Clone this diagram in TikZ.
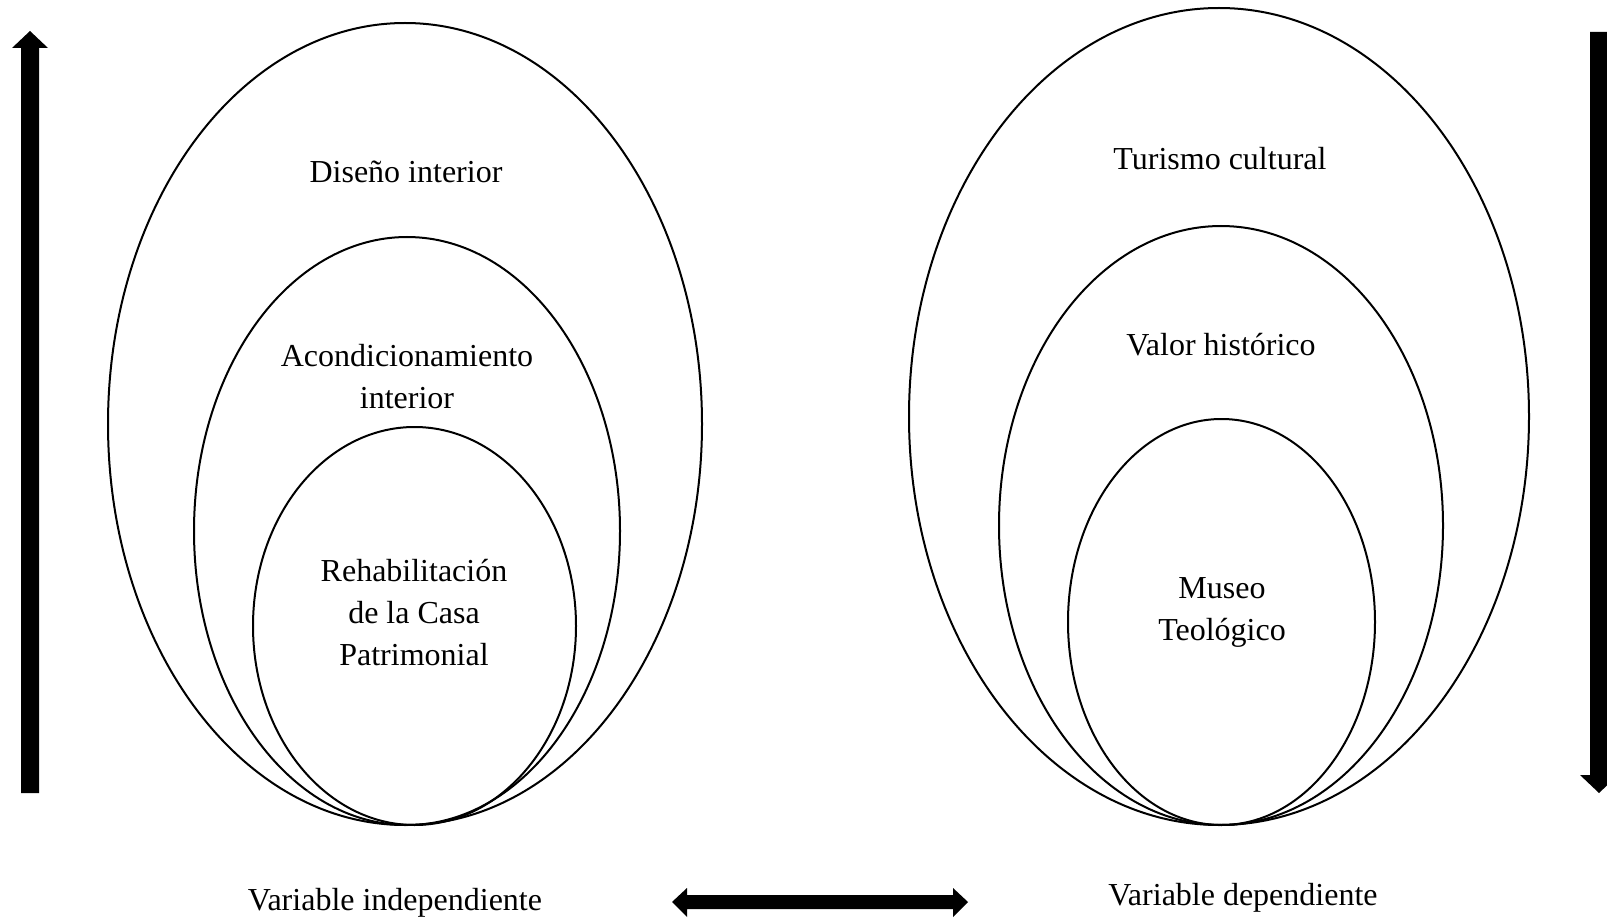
\documentclass[tikz,border=0pt]{standalone}
\usepackage{fontspec}
\setmainfont{Liberation Serif}
\begin{document}
\begin{tikzpicture}[x=1pt,y=-1pt,
  oval/.style={draw=black,line width=2pt},
  lbl/.style={align=center,font=\fontsize{32}{42}\selectfont,inner sep=0pt},
  blk/.style={fill=black,draw=none}]
\useasboundingbox (0,0) rectangle (1607,920);
% left ellipses
\draw[oval] (405,424) ellipse [x radius=297,y radius=401];
\draw[oval] (407,531) ellipse [x radius=213,y radius=294];
\draw[oval] (414.5,626) ellipse [x radius=161.5,y radius=199];
% right ellipses
\draw[oval] (1219,416.5) ellipse [x radius=310,y radius=408.5];
\draw[oval] (1221,525.5) ellipse [x radius=222,y radius=299.5];
\draw[oval] (1221.5,622) ellipse [x radius=153.5,y radius=203];
% labels
\node[lbl] (d1) at (406,172) {Diseño interior};
\node[lbl] (d2) at (407,377) {Acondicionamiento\\interior};
\node[lbl] (d3) at (414,613) {Rehabilitación\\de la Casa\\Patrimonial};
\node[lbl] (t1) at (1220,159) {Turismo cultural};
\node[lbl] (t2) at (1221,345) {Valor histórico};
\node[lbl] (t3) at (1222,612) {Museo\\Teológico};
\node[lbl] (vi) at (395,903) {Variable independiente};
\node[lbl] (vd) at (1243,898) {Variable dependiente};
% arrows
\fill[blk] (21,793) -- (21,48) -- (12,48) -- (30,31) -- (48,48) -- (39,48) -- (39,793) -- cycle;
\fill[blk] (1590,32) -- (1590,775) -- (1580,775) -- (1599,793) -- (1618,775) -- (1608,775) -- (1608,32) -- cycle;
\fill[blk] (672,902) -- (687,888) -- (687,895) -- (953,895) -- (953,888) -- (968,902) -- (953,917) -- (953,909) -- (687,909) -- (687,917) -- cycle;
\end{tikzpicture}
\end{document}
